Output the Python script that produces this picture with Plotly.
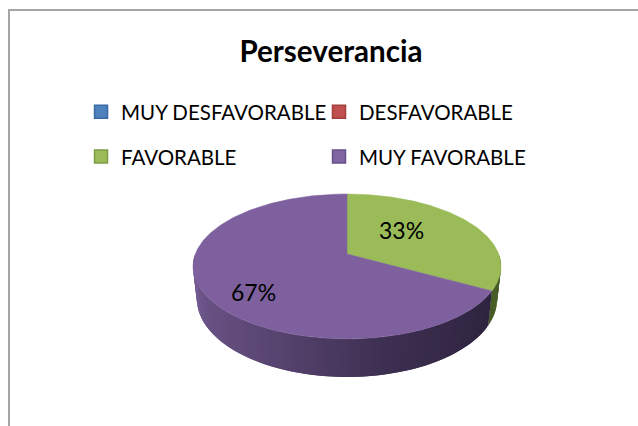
import numpy as np
import plotly.graph_objects as go

TITLE = "Perseverancia"
categories = ["MUY DESFAVORABLE", "DESFAVORABLE", "FAVORABLE", "MUY FAVORABLE"]
values = [0, 0, 33, 67]
colors = ["#4f81bd", "#c0504d", "#9bbb59", "#8064a2"]
top_colors = ["#4f81bd", "#c0504d", "#9bbb59", "#7e609e"]
edges = ["#3a6aa3", "#a23f3c", "#7f9c45", "#66508a"]

W, H = 638, 426
CX, CY, A, B, P = 347, 254, 151.7, 70.3, 0.172
DEPTH, BOTTOM_SCALE = 31.5, 0.975
FONT = "Lato, 'Noto Sans', sans-serif"


def project(theta, r=1.0, down=0.0, scale=1.0):
    """theta in degrees clockwise from 12 o'clock, perspective-tilted disc."""
    t = np.radians(theta)
    u, v = r * np.sin(t), r * np.cos(t)
    w = 1 + P * v
    return CX + scale * A * u / w, CY - B * v / w + down / w


def mix(c1, c2, f):
    return tuple(a + (b - a) * f for a, b in zip(c1, c2))


def side_color(theta, idx):
    x = (np.sin(np.radians(theta)) + 1) / 2  # 0 left, 1 right
    if idx == 2:
        return "rgb(72,92,38)"
    stops = [(0.0, (118, 92, 148)), (0.08, (104, 82, 132)), (0.3, (88, 68, 112)),
             (0.6, (62, 48, 82)), (1.0, (44, 34, 60))]
    for (a, ca), (b, cb) in zip(stops, stops[1:]):
        if x <= b:
            c = mix(ca, cb, (x - a) / (b - a))
            break
    return "rgb(%d,%d,%d)" % c


fig = go.Figure()

# slice angle spans derived from the values
total = sum(values)
spans = []
start = 0.0
for i, val in enumerate(values):
    if i < 2:
        spans.append((0.0, 0.0))
        continue
    end = start + 360.0 * val / total
    spans.append((start, end))
    start = end

# side wall, front half only; each piece overlaps the next so no seams show
for i in (2, 3):
    s, e = spans[i]
    lo, hi = max(s, 90.0), min(e, 270.0)
    grid = np.arange(lo, hi, 1.5).tolist() + [hi]
    for a, b in zip(grid, grid[1:]):
        b2 = min(b + 1.5, hi)
        th = np.array([a, b2, b2, a, a])
        dn = np.array([0, 0, DEPTH, DEPTH, 0])
        sc = np.array([1, 1, BOTTOM_SCALE, BOTTOM_SCALE, 1])
        x, y = project(th, down=dn, scale=sc)
        col = side_color((a + b) / 2, i)
        fig.add_trace(go.Scatter(x=x, y=y, mode="lines", fill="toself", fillcolor=col,
                                 line=dict(width=0), hoverinfo="skip", showlegend=False))

# top faces
for i in (2, 3):
    s, e = spans[i]
    th = np.linspace(s, e, 241)
    x, y = project(th)
    x = np.concatenate([[CX], x, [CX]])
    y = np.concatenate([[CY], y, [CY]])
    fig.add_trace(go.Scatter(x=x, y=y, mode="lines", fill="toself", fillcolor=top_colors[i],
                             line=dict(color=top_colors[i], width=0.5), hoverinfo="skip",
                             showlegend=False))

# legend entries, one legend per slot so the 2x2 grid can be placed exactly
slots = [(0.127, 0.7372), (0.5, 0.7372), (0.127, 0.632), (0.5, 0.632)]
for i, name in enumerate(categories):
    key = "legend" if i == 0 else f"legend{i + 1}"
    fig.add_trace(go.Scatter(x=[None], y=[None], mode="markers", name=name, legend=key,
                             marker=dict(symbol="square", size=13, color=colors[i],
                                         line=dict(color=edges[i], width=1.5))))
    fig.layout[key] = dict(x=slots[i][0], y=slots[i][1], xanchor="left", yanchor="middle",
                           bgcolor="rgba(0,0,0,0)", font=dict(family=FONT, size=20.5, color="#000"),
                           itemclick=False, itemdoubleclick=False)

annotations = [
    dict(x=401, y=230, text=f"{values[2]}%"),
    dict(x=253, y=292, text=f"{values[3]}%"),
]
for an in annotations:
    an.update(xref="x", yref="y", showarrow=False, xanchor="center", yanchor="middle",
              font=dict(family=FONT, size=23, color="#000"))

fig.update_layout(
    width=W, height=H, margin=dict(l=0, r=0, t=0, b=0),
    paper_bgcolor="white", plot_bgcolor="white",
    xaxis=dict(range=[0, W], visible=False, fixedrange=True),
    yaxis=dict(range=[H, 0], visible=False, fixedrange=True),
    title=dict(text=f"<b>{TITLE}</b>", x=331 / W, xanchor="center", y=1 - 52 / H, yanchor="middle",
               font=dict(family=FONT, size=29.6, color="#000")),
    annotations=annotations,
    shapes=[
        dict(type="line", xref="x", yref="y", x0=9, x1=9, y0=10, y1=H, line=dict(color="#a6a6a6", width=2)),
        dict(type="line", xref="x", yref="y", x0=8, x1=W, y0=10, y1=10, line=dict(color="#a6a6a6", width=2)),
    ],
)
fig.write_html("out.html", config=dict(displayModeBar=False),
               post_script="document.body.style.margin='0';document.body.style.overflow='hidden';")
